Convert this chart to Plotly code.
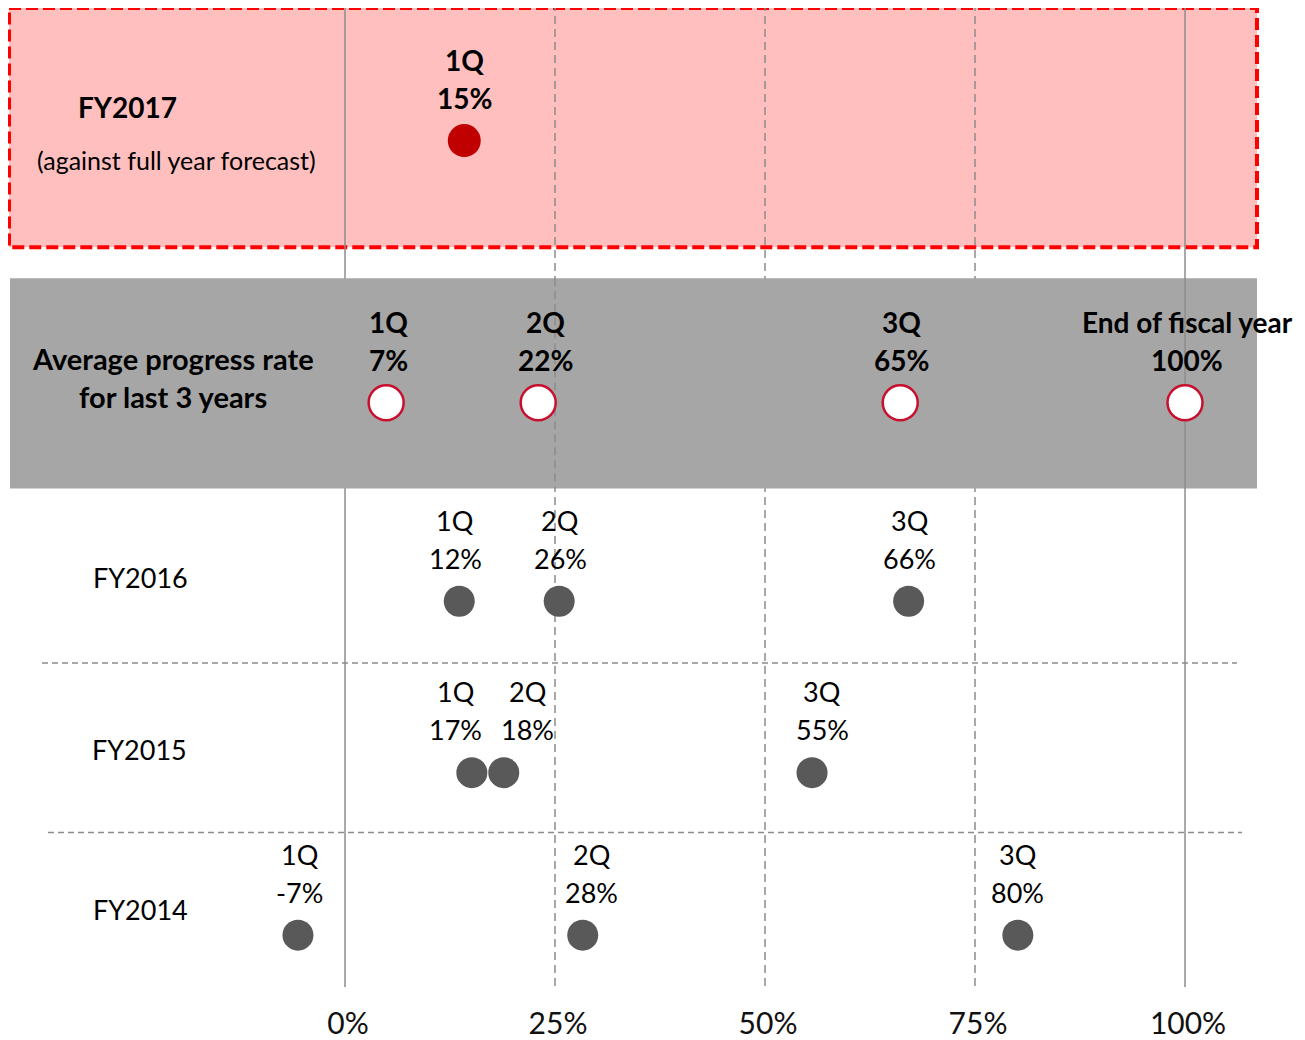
import plotly.graph_objects as go

# ---------------- data ----------------
tick_vals = [0, 25, 50, 75, 100]
tick_text = ["0%", "25%", "50%", "75%", "100%"]

fy2017_x = [14.2]
fy2017_q = ["1Q"]
fy2017_pct = ["15%"]

avg_x = [4.9, 23.0, 66.1, 100.0]
avg_q = ["1Q", "2Q", "3Q", "End of fiscal year"]
avg_pct = ["7%", "22%", "65%", "100%"]

fy2016_x = [13.6, 25.5, 67.1]
fy2016_q = ["1Q", "2Q", "3Q"]
fy2016_pct = ["12%", "26%", "66%"]

fy2015_x = [15.1, 18.9, 55.6]
fy2015_q = ["1Q", "2Q", "3Q"]
fy2015_pct = ["17%", "18%", "55%"]

fy2014_x = [-5.6, 28.3, 80.1]
fy2014_q = ["1Q", "2Q", "3Q"]
fy2014_pct = ["-7%", "28%", "80%"]

# ---------------- layout helpers ----------------
OFF = 8            # page body margin
PPU = 8.4          # pixels per percent
X0 = 345           # page x of 0%
FIG_W, FIG_H = 1305 - OFF, 1040 - OFF
XMIN = -(X0 - OFF) / PPU
XMAX = XMIN + FIG_W / PPU
AX_BOTTOM = 990


def px(page_x):
    return (page_x - X0) / PPU


FONT = "Lato, Carlito, Calibri, sans-serif"
GRID = "#8c8c8c"
BOLD_SIZE = 28
REG_SIZE = 27

fig = go.Figure()

shapes = []
# pink forecast box
shapes.append(dict(type="rect", xref="x", yref="y", x0=px(9), x1=px(1257), y0=8, y1=248,
                   fillcolor="#FFBFBF", line=dict(color="#FF0000", width=4, dash="12px,5px"),
                   layer="below"))
# vertical reference lines
for v in tick_vals:
    solid = v in (0, 100)
    shapes.append(dict(type="line", xref="x", yref="y", x0=v, x1=v, y0=3, y1=AX_BOTTOM,
                       line=dict(color=GRID, width=1.5, dash="solid" if solid else "8px,5px"),
                       layer="below"))
# grey average box
shapes.append(dict(type="rect", xref="x", yref="y", x0=px(10), x1=px(1257), y0=279, y1=490,
                   fillcolor="#A6A6A6", line=dict(width=0), layer="below"))
for v in (25, 100):
    shapes.append(dict(type="line", xref="x", yref="y", x0=v, x1=v, y0=279, y1=490,
                       line=dict(color=GRID, width=1.5, dash="solid" if v == 100 else "8px,5px"),
                       layer="below"))
# horizontal separators
shapes.append(dict(type="line", xref="x", yref="y", x0=px(42), x1=px(1237), y0=665, y1=665,
                   line=dict(color=GRID, width=1.5, dash="6px,4px"), layer="below"))
shapes.append(dict(type="line", xref="x", yref="y", x0=px(48), x1=px(1242), y0=835, y1=835,
                   line=dict(color=GRID, width=1.5, dash="6px,4px"), layer="below"))

annotations = []


def label(x, y, text, size, bold=False, xshift=0):
    annotations.append(dict(x=x, y=y, xref="x", yref="y", text=f"<b>{text}</b>" if bold else text,
                            showarrow=False, xanchor="center", yanchor="middle", xshift=xshift,
                            font=dict(family=FONT, size=size, color="#000000")))


rows = [
    # xs, quarters, pcts, dot y, bold, marker style, label x shifts (px)
    (fy2017_x, fy2017_q, fy2017_pct, 141, True, "red", [0]),
    (avg_x, avg_q, avg_pct, 404, True, "ring", [2, 7, 1, 2]),
    (fy2016_x, fy2016_q, fy2016_pct, 603, False, "grey", [-4, 1, 1]),
    (fy2015_x, fy2015_q, fy2015_pct, 775, False, "grey", [-16, 24, 10]),
    (fy2014_x, fy2014_q, fy2014_pct, 938, False, "grey", [2, 9, 0]),
]

for xs, qs, pcts, yd, bold, style, shifts in rows:
    if style == "red":
        marker = dict(size=33, color="#C00000", line=dict(width=0))
    elif style == "ring":
        marker = dict(size=35, color="#FFFFFF", line=dict(width=2.5, color="#C8102E"))
    else:
        marker = dict(size=31, color="#595959", line=dict(width=0))
    fig.add_trace(go.Scatter(x=xs, y=[yd] * len(xs), mode="markers", marker=marker,
                             hoverinfo="skip", showlegend=False))
    size = BOLD_SIZE if bold else REG_SIZE
    for x, q, p, s in zip(xs, qs, pcts, shifts):
        label(x, yd - 81, q, size, bold, s)
        label(x, yd - 43, p, size, bold, s)

# row titles
label(px(127), 107, "FY2017", BOLD_SIZE, True)
label(px(176), 160, "(against full year forecast)", 25)
label(px(173), 360, "Average progress rate", 29, True)
label(px(173), 398, "for last 3 years", 29, True)
label(px(140), 579, "FY2016", REG_SIZE)
label(px(139), 752, "FY2015", REG_SIZE)
label(px(140), 912, "FY2014", REG_SIZE)

fig.update_layout(
    width=FIG_W, height=FIG_H,
    margin=dict(l=0, r=0, t=0, b=FIG_H - (AX_BOTTOM - OFF)),
    paper_bgcolor="white", plot_bgcolor="white",
    shapes=shapes, annotations=annotations,
    xaxis=dict(range=[XMIN, XMAX], tickvals=tick_vals, ticktext=tick_text,
               showgrid=False, zeroline=False, showline=False,
               ticks="outside", ticklen=10, tickcolor="rgba(0,0,0,0)",
               ticklabelshift=3,
               tickfont=dict(family=FONT, size=30, color="#111111"), fixedrange=True),
    yaxis=dict(range=[AX_BOTTOM, OFF], visible=False, fixedrange=True),
)

fig.write_html("out.html")
